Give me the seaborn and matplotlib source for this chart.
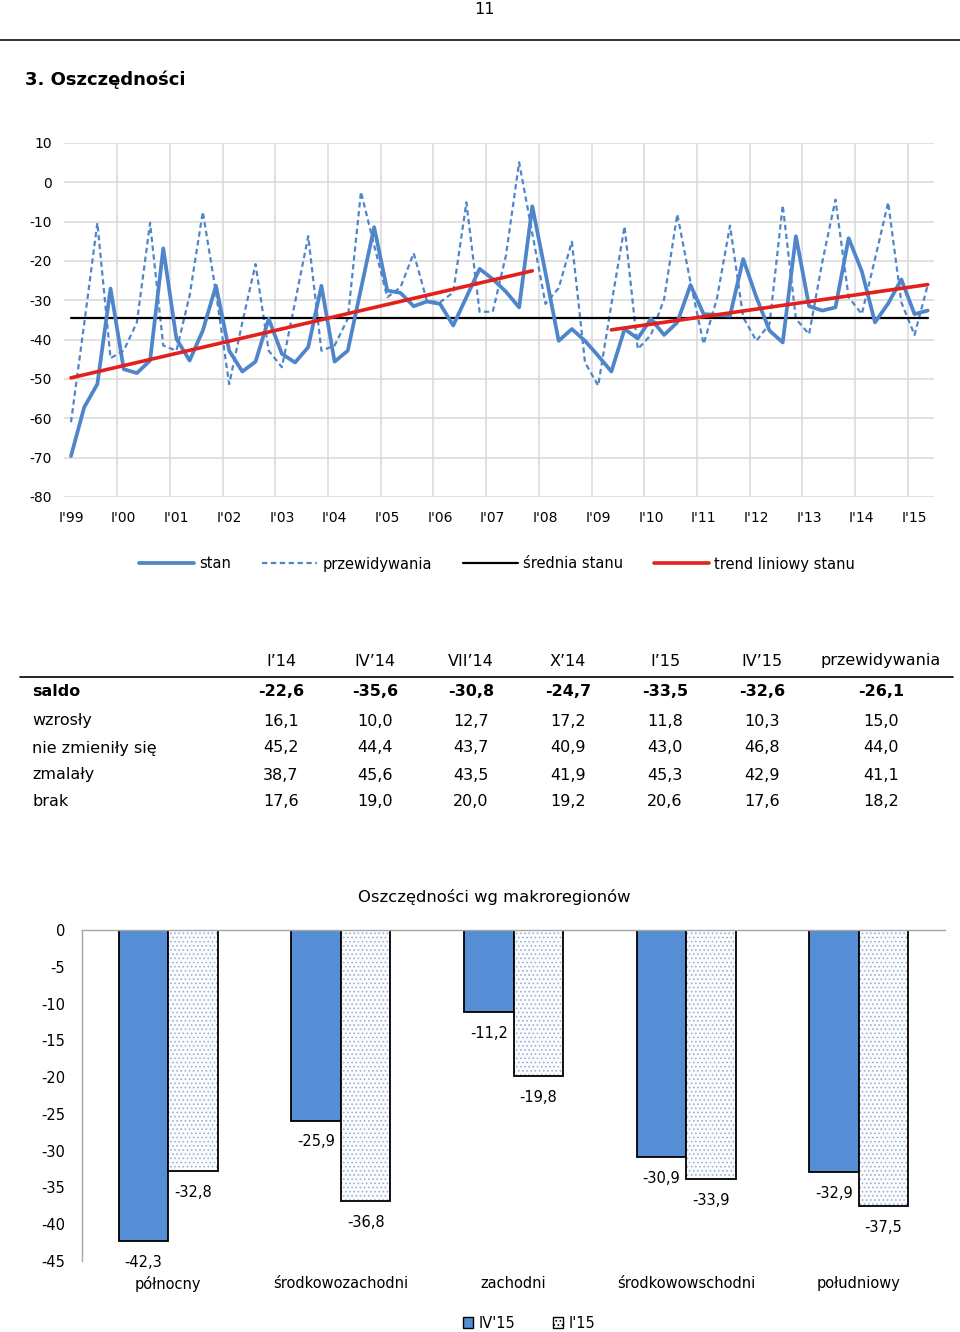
import numpy as np
import pandas as pd
import matplotlib
matplotlib.use("Agg")
import matplotlib.pyplot as plt
import seaborn as sns
from matplotlib.lines import Line2D
from matplotlib.patches import Rectangle, Patch

# ---- wykres liniowy: dane kwartalne I'99 .. IV'15 ----
stan = [-69.6, -57.2, -51.3, -27.0, -47.5, -48.5, -45.3, -16.8, -39.8, -45.3,
        -37.7, -26.3, -42.8, -48.1, -45.6, -34.7, -43.6, -45.8, -41.9, -26.3,
        -45.6, -42.8, -27.1, -11.4, -27.5, -28.1, -31.5, -30.3, -30.9, -36.4,
        -29.2, -22.0, -24.6, -27.8, -31.8, -6.1, -23.0, -40.3, -37.3, -40.3,
        -44.1, -48.1, -37.3, -39.7, -34.7, -38.8, -35.6, -26.1, -33.5, -33.7,
        -33.9, -19.5, -29.2, -37.7, -40.7, -13.7, -31.5, -32.6, -31.8, -14.2,
        -22.6, -35.6, -30.8, -24.7, -33.5, -32.6]
przewidywania = [-61.0, -36.0, -10.3, -44.7, -42.8, -35.6, -10.3, -41.5, -42.8, -28.8,
                 -7.5, -28.0, -51.3, -35.6, -20.8, -42.8, -47.0, -30.5, -13.7, -42.8,
                 -41.5, -34.7, -2.4, -16.0, -29.2, -26.7, -18.0, -30.1, -30.5, -28.0,
                 -5.1, -32.9, -32.9, -18.6, 5.1, -13.0, -30.9, -26.9, -15.1, -45.8,
                 -51.7, -31.0, -11.2, -42.4, -38.8, -29.7, -8.1, -25.4, -41.1, -29.7,
                 -11.0, -34.3, -40.3, -36.0, -5.8, -34.7, -38.6, -20.3, -4.4, -29.2,
                 -33.5, -19.5, -5.1, -30.5, -38.8, -26.1]
srednia_stanu = -34.5
trend1_idx = [0, 35]
trend1_val = [-49.7, -22.5]
trend2_idx = [41, 65]
trend2_val = [-37.5, -26.0]
year_labels = ["I'99", "I'00", "I'01", "I'02", "I'03", "I'04", "I'05", "I'06",
               "I'07", "I'08", "I'09", "I'10", "I'11", "I'12", "I'13", "I'14", "I'15"]

# ---- tabela ----
tab_cols = ["I\u201914", "IV\u201914", "VII\u201914", "X\u201914", "I\u201915", "IV\u201915", "przewidywania"]
tab_rows = ["saldo", "wzrosły", "nie zmieniły się", "zmalały", "brak"]
saldo = [-22.6, -35.6, -30.8, -24.7, -33.5, -32.6, -26.1]
wzrosly = [16.1, 10.0, 12.7, 17.2, 11.8, 10.3, 15.0]
nie_zmienily = [45.2, 44.4, 43.7, 40.9, 43.0, 46.8, 44.0]
zmalaly = [38.7, 45.6, 43.5, 41.9, 45.3, 42.9, 41.1]
brak = [17.6, 19.0, 20.0, 19.2, 20.6, 17.6, 18.2]

# ---- makroregiony ----
regiony = ["północny", "środkowozachodni", "zachodni", "środkowowschodni", "południowy"]
iv15 = [-42.3, -25.9, -11.2, -30.9, -32.9]
i15 = [-32.8, -36.8, -19.8, -33.9, -37.5]

BLUE = "#4F86CB"
BAR_BLUE = "#558ED5"
RED = "#E3201B"
GRID = "#D9D9D9"
DOTS = "#9CB2D2"

sns.set_theme(style="white")
plt.rcParams["font.family"] = ["DejaVu Sans"]
plt.rcParams["axes.unicode_minus"] = False
plt.rcParams["text.color"] = "black"
plt.rcParams["hatch.linewidth"] = 0.7

W, H = 960, 1332
fig = plt.figure(figsize=(W / 100, H / 100), dpi=100)


def fx(x):
    return x / W


def fy(y):
    return 1 - y / H


def fmt(v):
    return f"{v:.1f}".replace(".", ",")


# naglowek strony
fig.text(fx(484), fy(9), "11", ha="center", va="center", fontsize=11.5)
fig.add_artist(Line2D([0, 1], [fy(40), fy(40)], transform=fig.transFigure, color="#222222", lw=1.3))
fig.text(fx(25), fy(80), "3. Oszczędności", ha="left", va="center", fontsize=13, fontweight="bold")

# ---- wykres liniowy ----
ax = fig.add_axes([fx(64.4), fy(497), (934.3 - 64.4) / W, (497 - 143) / H])
idx = np.arange(len(stan))
sns.lineplot(x=idx, y=przewidywania, ax=ax, color=BLUE, lw=1.6, linestyle=(0, (2.4, 1.6)))
sns.lineplot(x=[idx[0], idx[-1]], y=[srednia_stanu, srednia_stanu], ax=ax, color="black", lw=1.6)
sns.lineplot(x=idx, y=stan, ax=ax, color=BLUE, lw=2.7)
sns.lineplot(x=trend1_idx, y=trend1_val, ax=ax, color=RED, lw=2.6)
sns.lineplot(x=trend2_idx, y=trend2_val, ax=ax, color=RED, lw=2.6)
ax.set_xlim(-0.5, len(stan) - 0.5)
ax.set_ylim(-80, 10)
ax.set_yticks(np.arange(-80, 11, 10))
ax.set_xticks(np.arange(0, len(stan), 4))
ax.set_xticklabels(year_labels)
ax.set_xticks(np.arange(3.5, len(stan) - 1, 4), minor=True)
ax.grid(axis="y", which="major", color=GRID, lw=1.1)
ax.grid(axis="x", which="minor", color=GRID, lw=1.1)
ax.set_axisbelow(True)
for s in ax.spines.values():
    s.set_visible(False)
ax.tick_params(axis="both", which="both", length=0, labelsize=10, colors="black")
ax.tick_params(axis="y", pad=9)
ax.tick_params(axis="x", pad=10)
ax.set_xlabel("")
ax.set_ylabel("")

handles = [
    Line2D([], [], color=BLUE, lw=2.7),
    Line2D([], [], color=BLUE, lw=1.6, linestyle=(0, (2.4, 1.6))),
    Line2D([], [], color="black", lw=1.6),
    Line2D([], [], color=RED, lw=2.6),
]
fig.legend(handles, ["stan", "przewidywania", "średnia stanu", "trend liniowy stanu"],
           loc="center", bbox_to_anchor=(fx(497), fy(564)), ncol=4, frameon=False,
           fontsize=10.5, handlelength=3.8, handletextpad=0.35, columnspacing=2.1)

# ---- tabela ----
col_x = [281, 375, 471, 568, 665, 762, 881]
row_y = [692, 721, 748, 775, 801]
for cx, c in zip(col_x, tab_cols):
    fig.text(fx(cx), fy(661), c, ha="center", va="center", fontsize=11.5)
fig.add_artist(Line2D([fx(20), fx(953)], [fy(677), fy(677)], transform=fig.transFigure, color="black", lw=1.2))
tab_vals = [saldo, wzrosly, nie_zmienily, zmalaly, brak]
for r, (name, vals) in enumerate(zip(tab_rows, tab_vals)):
    w = "bold" if r == 0 else "normal"
    fig.text(fx(32), fy(row_y[r]), name, ha="left", va="center", fontsize=11.5, fontweight=w)
    for cx, v in zip(col_x, vals):
        fig.text(fx(cx), fy(row_y[r]), fmt(v), ha="center", va="center", fontsize=11.5, fontweight=w)

# ---- wykres slupkowy ----
ax2 = fig.add_axes([fx(82), fy(1261), (945 - 82) / W, (1261 - 930) / H])
df = pd.DataFrame({
    "region": regiony * 2,
    "okres": ["IV'15"] * len(regiony) + ["I'15"] * len(regiony),
    "saldo": iv15 + i15,
})
sns.barplot(data=df, x="region", y="saldo", hue="okres", hue_order=["IV'15", "I'15"],
            palette={"IV'15": BAR_BLUE, "I'15": "#FBFCFE"}, width=0.574, saturation=1,
            edgecolor="black", linewidth=1.3, ax=ax2, legend=False)
for p in ax2.containers[1]:
    p.set_hatch("....")
    p.set_edgecolor(DOTS)
    p.set_linewidth(0)
    ax2.add_patch(Rectangle((p.get_x(), p.get_y()), p.get_width(), p.get_height(),
                            fill=False, edgecolor="black", lw=1.3, zorder=p.get_zorder() + 0.1))
for cont, vals in zip(ax2.containers[:2], [iv15, i15]):
    ax2.bar_label(cont, labels=[fmt(v) for v in vals], padding=10, fontsize=10.5)
ax2.set_ylim(-45, 0)
ax2.set_xlim(-0.5, len(regiony) - 0.5)
ax2.set_yticks(np.arange(-45, 1, 5))
for s in ["right", "bottom"]:
    ax2.spines[s].set_visible(False)
for s in ["left", "top"]:
    ax2.spines[s].set_color("#A6A6A6")
    ax2.spines[s].set_linewidth(1.0)
ax2.tick_params(axis="both", length=0, labelsize=10.5, colors="black")
ax2.tick_params(axis="y", pad=12)
ax2.tick_params(axis="x", pad=11)
ax2.set_xlabel("")
ax2.set_ylabel("")
fig.text(fx(494), fy(897), "Oszczędności wg makroregionów", ha="center", va="center", fontsize=11.8)

bar_handles = [
    Patch(facecolor=BAR_BLUE, edgecolor="black", lw=1.0),
    Patch(facecolor="#FBFCFE", edgecolor="black", lw=1.0, hatch="...."),
]
fig.legend(bar_handles, ["IV'15", "I'15"], loc="center", bbox_to_anchor=(fx(529), fy(1323)),
           ncol=2, frameon=False, fontsize=10.5, handlelength=0.7, handleheight=0.7,
           handletextpad=0.35, columnspacing=2.6)

fig.savefig("out.png", dpi=100)
